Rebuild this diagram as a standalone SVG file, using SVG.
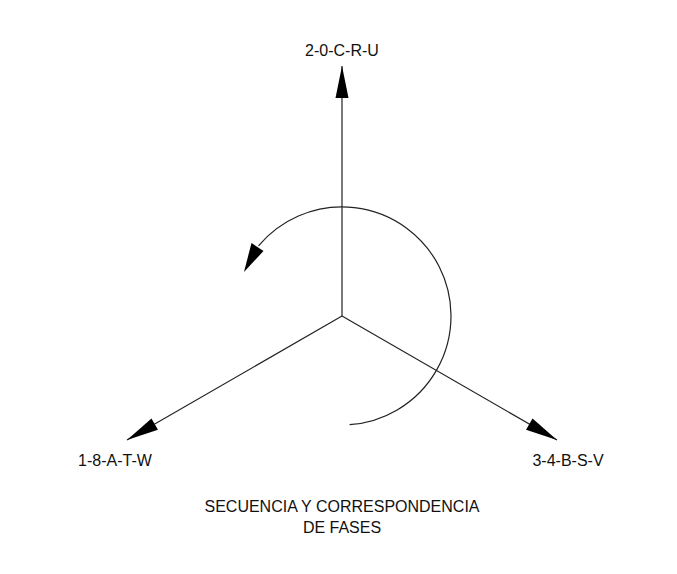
<svg xmlns="http://www.w3.org/2000/svg" width="677" height="574" viewBox="0 0 677 574">
<style>
.ln{stroke:#222;stroke-width:1.2;fill:none}
.t{font-family:"Liberation Sans",Arial,sans-serif;font-size:16px;fill:#111;text-anchor:middle}
</style>
<defs>
<marker id="ah" markerUnits="userSpaceOnUse" markerWidth="40" markerHeight="16" viewBox="-34 -8 36 16" refX="0" refY="0" orient="auto">
<path d="M0,0 L-32,-6.5 L-32,6.5 Z" fill="#000"/>
</marker>
</defs>
<rect width="677" height="574" fill="#fff"/>
<g id="connectors">
<line id="phase-up" class="ln" x1="342" y1="316" x2="342" y2="66" marker-end="url(#ah)"/>
<line id="phase-left" class="ln" x1="342" y1="316" x2="127" y2="440" marker-end="url(#ah)"/>
<line id="phase-right" class="ln" x1="342" y1="316" x2="557" y2="440" marker-end="url(#ah)"/>
<path id="rotation" class="ln" d="M349.6,424.7 A109,109 0 1 0 258.5,245.9"/>
<path id="rotation-head" d="M244,272 L251.5,243 L263.5,251 Z" fill="#000"/>
</g>
<g id="label-u"><text class="t" x="342" y="56">2-0-C-R-U</text></g>
<g id="label-w"><text class="t" x="115" y="466">1-8-A-T-W</text></g>
<g id="label-v"><text class="t" x="568" y="466">3-4-B-S-V</text></g>
<g id="title">
<text class="t" x="342" y="512">SECUENCIA Y CORRESPONDENCIA</text>
<text class="t" x="342" y="533">DE FASES</text>
</g>
</svg>
